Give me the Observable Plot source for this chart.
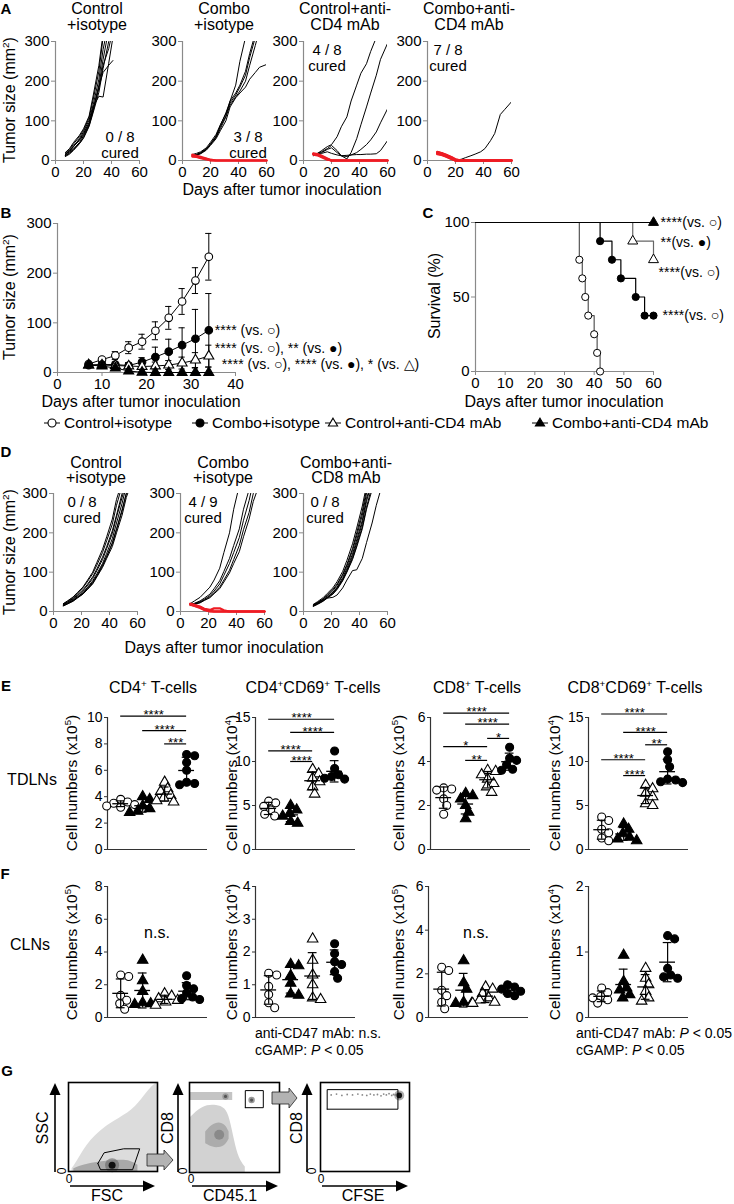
<!DOCTYPE html>
<html><head><meta charset="utf-8">
<script src="https://cdn.jsdelivr.net/npm/d3@7"></script>
<script src="https://cdn.jsdelivr.net/npm/@observablehq/plot@0.6"></script>
<style>
html,body{margin:0;padding:0;background:#fff;}
#fig{position:relative;width:734px;height:1204px;overflow:hidden;background:#fff;font-family:"Liberation Sans",Arial,Helvetica,sans-serif;color:#000;}
#fig .t{position:absolute;white-space:nowrap;font-size:16px;line-height:1;}
#fig .c{transform:translate(-50%,-50%);text-align:center;}
#fig .l{transform:translate(0,-50%);}
#fig .r{transform:translate(-50%,-50%) rotate(-90deg);}
#fig .b{font-weight:bold;}
#fig sup{font-size:0.62em;line-height:0;vertical-align:0.6em;}
#fig svg{overflow:visible;}
</style></head><body><div id="fig"></div>
<script>
// ================= DATA =================
// Panel A: individual tumor growth (mm^2), measurement days
const aDays = [7,10,13,17,20,24,27,31,34,38,41,45,48,52,55,60];
const a1Black = [
  [12,20,30,45,62,90,130,190,255,330],
  [15,22,35,55,72,102,142,205,280,350],
  [18,28,42,60,76,108,155,225,310],
  [10,16,26,42,56,86,122,172,232,300,340],
  [14,25,38,52,68,96,136,162,160,245,310],
  [20,30,46,63,80,112,165,240,320],
  [12,18,28,42,58,88,126,182,240,282,330],
  [16,24,36,50,65,92,132,186,222,240,252]
];
const a1Red = [];
const a2Black = [
  [12,14,18,28,42,62,88,120,150,190,250,310],
  [14,15,20,30,40,58,80,110,140,160,175,200,240,290,330],
  [15,18,22,32,46,66,90,118,145,165,185,215,260,310],
  [12,13,17,26,38,55,75,100,135,158,170,185,205,222,235,242],
  [13,15,19,28,42,60,85,112,150,170,190,225,270,320]
];
const a2Red = [
  [15,12,9,5,2,0,0,0,0,0,0,0,0,0,0,0],
  [12,10,7,4,1,0,0,0,0,0,0,0,0,0,0,0],
  [10,9,6,3,0,0,0,0,0,0,0,0,0,0,0,0]
];
const a3Black = [
  [15,18,25,35,40,60,85,110,150,190,220,244,275,310],
  [16,18,22,30,38,25,12,4,20,55,90,135,170,215,255,295],
  [14,16,20,28,32,20,12,10,14,20,28,40,52,72,95,130],
  [12,14,18,22,18,14,12,13,14,15,15,16,16,17,25,50]
];
const a3Red = [
  [18,16,12,5,0,0,0,0,0,0,0,0,0,0,0,0],
  [16,14,10,3,0,0,0,0,0,0,0,0,0,0,0,0],
  [15,13,8,2,0,0,0,0,0,0,0,0,0,0,0,0],
  [17,15,11,4,0,0,0,0,0,0,0,0,0,0,0,0]
];
const a4Black = [[18,16,12,6,1,3,7,12,16,22,30,50,68,116,128,148]];
const a4Red = [
  [20,18,14,8,2,0,0,0,0,0,0,0,0,0,0,0],
  [22,19,15,9,3,0,0,0,0,0,0,0,0,0,0,0],
  [18,16,12,6,0,0,0,0,0,0,0,0,0,0,0,0],
  [17,15,11,5,0,0,0,0,0,0,0,0,0,0,0,0],
  [19,17,13,7,1,0,0,0,0,0,0,0,0,0,0,0],
  [21,18,13,6,0,0,0,0,0,0,0,0,0,0,0,0],
  [16,14,10,4,0,0,0,0,0,0,0,0,0,0,0,0]
];
const aTitles = [["Control","+isotype"],["Combo","+isotype"],["Control+anti-","CD4 mAb"],["Combo+anti-","CD4 mAb"]];

// Panel B: mean tumor size ± SEM
const groupsB = ["Control+isotype","Combo+isotype","Control+anti-CD4 mAb","Combo+anti-CD4 mAb"];
const bDays = [7,10,13,16,19,22,25,28,31,34];
const bCtrlIso = [17,26,34,50,62,84,110,143,185,233];
const bCtrlIsoErr = [3,4,8,12,15,18,23,26,26,47];
const bComboIso = [15,16,16,14,21,31,42,55,68,85];
const bComboIsoErr = [3,4,5,6,9,20,25,35,59,74];
const bCtrlCD4 = [15,15,14,13,12,13,15,19,25,33];
const bCtrlCD4Err = [2,3,4,5,6,8,9,12,15,22];
const bComboCD4 = [15,13,9,3,0.5,0,0,0,0,0];
const bComboCD4Err = [2,2,3,2,1,0,0,0,0,0];
const bAnnot = [
  {key:"comboIso", text:"**** (vs. ○)"},
  {key:"ctrlCD4", text:"**** (vs. ○), ** (vs. ●)"},
  {key:"comboCD4", text:"**** (vs. ○), **** (vs. ●), * (vs. △)"}
];

// Panel C: survival (%)
const survCtrlIsoDays = [0,35,36,37,38,40,41,42];
const survCtrlIso = [100,75,62.5,50,37.5,25,12.5,0];
const survComboIsoDays = [0,42,46,49,54,57,60];
const survComboIso = [100,87.5,75,62.5,50,37.5,37.5];
const survCtrlCD4Days = [0,53,60];
const survCtrlCD4 = [100,87.5,75];
const survComboCD4Days = [0,60];
const survComboCD4 = [100,100];
const cAnnot = [
  {key:"comboCD4", text:"****(vs. ○)", line:0},
  {key:"comboCD4", text:"**(vs. ●)", line:1},
  {key:"ctrlCD4", text:"****(vs. ○)", line:0},
  {key:"comboIso", text:"****(vs. ○)", line:0}
];

// Panel D
const dDays = [7,10,14,17,21,24,28,31,35,38,42,45,49,52,56,60];
const d1Black = [
  [15,20,28,36,46,58,75,92,118,140,175,210,260,300],
  [18,24,33,42,55,68,88,108,138,165,205,245,300],
  [20,27,37,48,62,78,100,125,158,190,235,285,330],
  [16,21,29,37,48,60,78,96,122,148,185,225,275,320],
  [14,19,26,34,44,55,70,88,112,135,165,200,245,290,330],
  [17,23,31,40,52,65,84,104,132,160,198,240,290,330],
  [19,26,35,46,60,75,96,118,150,180,222,270,320],
  [15,20,27,35,45,56,72,90,115,140,172,208,255,300]
];
const d2Black = [
  [20,27,36,47,62,80,110,150,200,260,320],
  [18,21,27,34,44,58,78,102,135,168,210,260,310],
  [17,20,25,31,40,52,70,92,122,150,188,232,282,330],
  [16,19,23,29,37,48,62,80,105,132,168,208,252,300],
  [15,18,22,28,35,45,58,75,98,122,152,190,235,280,320]
];
const d2Red = [
  [18,15,10,5,1,0,0,0,0,0,0,0,0,0,0,0],
  [20,17,12,6,2,0,0,0,0,0,0,0,0,0,0,0],
  [17,14,9,4,0,0,0,0,0,0,0,0,0,0,0,0],
  [19,16,12,7,4,8,8,3,0,0,0,0,0,0,0,0]
];
const d3Black = [
  [15,20,28,36,48,60,82,105,140,175,225,280,330],
  [17,23,32,42,56,70,95,120,160,200,255,310],
  [14,19,27,35,46,58,80,102,135,168,215,265,320],
  [16,22,31,40,53,67,92,116,155,192,245,300],
  [18,25,35,46,60,76,102,130,172,212,268,320],
  [15,20,28,37,49,62,86,110,146,182,232,288,330],
  [13,18,26,34,44,56,78,100,132,164,210,260,310],
  [14,22,30,34,36,42,60,80,104,106,135,175,225,270,320]
];
const dTitles = [["Control","+isotype"],["Combo","+isotype"],["Combo+anti-","CD8 mAb"]];

// Panels E/F: cell numbers; groups ○ Control, ▲ anti-CD47 mAb, △ cGAMP, ● Combo
const eCD4 = [[3.8,3.6,3.5,3.4,3.3,3.2],[4.0,3.8,3.3,3.1,2.9,2.8],[5.1,4.6,4.4,4.1,3.9,3.7,3.6],[7.2,7.1,6.6,6.0,5.1,4.9,5.0]];
const eCD4CD69 = [[5.5,5.3,4.9,4.5,4.0,3.8],[5.0,4.5,4.1,3.8,3.2,3.0],[9.1,8.6,8.1,7.7,7.1,6.3],[11.2,9.2,8.5,8.3,8.1,8.0]];
const eCD8 = [[2.8,2.75,2.7,2.3,2.0,1.6],[2.55,2.45,2.3,2.0,1.7,1.4],[3.6,3.55,3.4,3.2,3.0,2.85,2.6],[4.65,4.15,4.05,3.85,3.65,3.6]];
const eCD8CD69 = [[3.7,3.3,2.3,1.9,1.3,1.0],[2.9,2.3,1.8,1.4,1.2,1.0],[7.3,6.9,6.4,6.0,5.2,5.0],[11.1,10.2,9.4,8.0,7.9,7.7,7.6]];
const fCD4 = [[2.6,2.5,1.35,1.05,0.85,0.5],[3.5,2.25,1.6,0.9,0.85,0.8],[1.45,1.3,1.15,1.05,0.95,0.75],[2.55,1.95,1.75,1.5,1.25,1.15,1.1]];
const fCD4CD69 = [[1.35,1.3,0.95,0.7,0.45,0.3],[1.62,1.58,1.28,1.05,0.72,0.68],[2.4,1.75,1.3,1.0,0.6,0.55],[2.25,1.95,1.7,1.62,1.4,1.2]];
const fCD8 = [[2.3,2.15,1.25,1.0,0.7,0.4],[2.6,1.6,1.3,0.7,0.65,0.65],[1.4,1.3,1.1,0.9,0.8,0.7,0.65],[1.5,1.4,1.3,1.2,1.1,1.0]];
const fCD8CD69 = [[0.45,0.38,0.32,0.27,0.22,0.3],[0.95,0.55,0.45,0.42,0.35,0.3],[0.75,0.6,0.5,0.4,0.3,0.25],[1.25,1.2,0.75,0.65,0.6,0.62]];
const eSig1 = [{a:1,b:4,y:10.1,t:"****"},{a:2,b:4,y:9.0,t:"****"},{a:3,b:4,y:8.0,t:"***"}];
const eSig2 = [{a:1,b:4,y:14.8,t:"****"},{a:2,b:4,y:13.3,t:"****"},{a:1,b:3,y:11.2,t:"****"},{a:2,b:3,y:10.0,t:"****"}];
const eSig3 = [{a:1,b:4,y:6.2,t:"****"},{a:2,b:4,y:5.7,t:"****"},{a:3,b:4,y:5.05,t:"*"},{a:1,b:3,y:4.68,t:"*"},{a:2,b:3,y:4.05,t:"**"}];
const eSig4 = [{a:1,b:4,y:15.4,t:"****"},{a:2,b:4,y:13.3,t:"****"},{a:3,b:4,y:11.9,t:"**"},{a:1,b:3,y:10.2,t:"****"},{a:2,b:3,y:8.4,t:"****"}];
const eTitles = ["CD4<sup>+</sup> T-cells","CD4<sup>+</sup>CD69<sup>+</sup> T-cells","CD8<sup>+</sup> T-cells","CD8<sup>+</sup>CD69<sup>+</sup> T-cells"];
const eExp = [5,4,5,4];

// Panel G: flow cytometry regions (normalized axes 0..1)
const g1LightX = [0.04,0.1,0.17,0.25,0.36,0.5,0.73,0.85,0.95,1];
const g1LightUp = [0.03,0.12,0.24,0.35,0.46,0.56,0.69,0.85,0.97,1];
const g1MedX = [0.06,0.15,0.3,0.45,0.6,0.7,0.78];
const g1MedUp = [0.03,0.07,0.1,0.12,0.13,0.12,0.07];
const g1Spot = [[0.49,0.07]];
const g1Gate = [[0.33,0.09],[0.40,0.21],[0.62,0.255],[0.80,0.255],[0.72,0.02],[0.36,0.02],[0.33,0.09]];
const g2BlobX = [0,0.1,0.2,0.3,0.4,0.45,0.5,0.55,0.62];
const g2BlobUp = [0.6,0.7,0.75,0.75,0.72,0.6,0.35,0.15,0.06];
const g2CoreX = [0.18,0.25,0.33,0.4,0.44];
const g2CoreLo = [0.32,0.28,0.27,0.3,0.37];
const g2CoreUp = [0.45,0.53,0.56,0.53,0.45];
const g2BandX = [0,0.48];
const g2BandLo = [0.8,0.8];
const g2BandUp = [0.89,0.89];
const g2Spots = [[0.4,0.845],[0.69,0.805]];
const g2Gate = [[0.62,0.72],[0.62,0.91],[0.82,0.91],[0.82,0.72],[0.62,0.72]];
const g3DotsX = [0.12,0.18,0.24,0.3,0.36,0.42,0.47,0.52,0.56,0.6,0.64,0.68,0.71,0.74,0.77,0.8,0.82,0.84,0.86];
const g3DotsY = [0.86,0.87,0.855,0.865,0.86,0.87,0.86,0.855,0.87,0.86,0.865,0.85,0.87,0.86,0.875,0.855,0.865,0.86,0.87];
const g3Spot = [[0.885,0.855]];
const g3Gate = [[0.075,0.70],[0.075,0.92],[0.87,0.92],[0.87,0.70],[0.075,0.70]];

// ================= DRAWING =================
const FONT = '"Liberation Sans", Arial, Helvetica, sans-serif';
const fig = document.getElementById("fig");
const AX = "#8a8a8a", AX2 = "#333";
const RED = "#ee1c24";
const fmt = d => String(d);
const style = (fs = 15) => ({fontFamily: FONT, fontSize: fs + "px", color: "#000", background: "transparent", overflow: "visible"});

function put(node, x, y) { node.style.position = "absolute"; node.style.left = x + "px"; node.style.top = y + "px"; fig.appendChild(node); return node; }
function txt(html, x, y, cls = "c", size = 16, extra = "") {
  const d = document.createElement("div");
  d.className = "t " + cls; d.innerHTML = html;
  d.style.left = x + "px"; d.style.top = y + "px"; d.style.fontSize = size + "px";
  if (extra) d.style.cssText += extra;
  fig.appendChild(d); return d;
}

function tumorChart(days, blacks, reds, ax, y300, y0) {
  const W = 84, H = y0 - y300, ml = 42, mr = 10, mt = 6, mb = 26;
  const toRows = (arr, k) => arr.flatMap((vals, i) => vals.map((v, j) => ({id: k + i, day: days[j], v})));
  const blk = toRows(blacks, "b"), red = toRows(reds, "r");
  const p = Plot.plot({
    width: ml + W + mr, height: mt + H + mb,
    marginLeft: ml, marginRight: mr, marginTop: mt, marginBottom: mb,
    style: style(15),
    x: {domain: [0, 60]}, y: {domain: [0, 300]},
    marks: [
      Plot.axisX({ticks: [0,20,40,60], tickFormat: fmt, tickSize: 4, tickPadding: 2, stroke: AX, fill: "#000", label: null}),
      Plot.axisY({ticks: [0,100,200,300], tickFormat: fmt, tickSize: 4, tickPadding: 2, stroke: AX, fill: "#000", label: null}),
      Plot.ruleX([0], {y1: 0, y2: 300, stroke: AX, strokeWidth: 1.2}),
      Plot.ruleY([0], {x1: 0, x2: 60, stroke: AX, strokeWidth: 1.2}),
      Plot.line(blk, {x: "day", y: "v", z: "id", stroke: "#000", strokeWidth: 1, clip: true}),
      Plot.line(red, {x: "day", y: "v", z: "id", stroke: RED, strokeWidth: 2.2})
    ]
  });
  put(p, ax - ml, y300 - mt);
  return {cured: reds.length, total: blacks.length + reds.length};
}

// ---- Panel A ----
txt("A", 6, 8, "c b", 15);
const aAx = [55, 182, 303, 427];
const aSets = [[a1Black, a1Red], [a2Black, a2Red], [a3Black, a3Red], [a4Black, a4Red]];
const aCuredPos = [[120, 136], [248, 136], [327, 49], [448, 49]];
aSets.forEach(([b, r], i) => {
  const res = tumorChart(aDays, b, r, aAx[i], 41, 160);
  const cx = aAx[i] + 42;
  txt(aTitles[i][0], cx, 9); txt(aTitles[i][1], cx, 25);
  txt(`${res.cured} / ${res.total}`, aCuredPos[i][0], aCuredPos[i][1], "c", 15);
  txt("cured", aCuredPos[i][0], aCuredPos[i][1] + 16, "c", 15);
});
txt("Tumor size (mm<sup>2</sup>)", 10, 100, "r");
txt("Days after tumor inoculation", 282, 190);

// ---- Panel B ----
txt("B", 6, 212, "c b", 15);
const bSeries = [
  {key: "ctrlIso", days: bDays, v: bCtrlIso, e: bCtrlIsoErr, symbol: "circle", fill: "#fff"},
  {key: "comboIso", days: bDays, v: bComboIso, e: bComboIsoErr, symbol: "circle", fill: "#000"},
  {key: "ctrlCD4", days: bDays, v: bCtrlCD4, e: bCtrlCD4Err, symbol: "triangle", fill: "#fff"},
  {key: "comboCD4", days: bDays, v: bComboCD4, e: bComboCD4Err, symbol: "triangle", fill: "#000"}
];
(function () {
  const ax = 57, y300 = 223, y0 = 372, W = 178, H = y0 - y300;
  const ml = 42, mr = 230, mt = 8, mb = 26;
  const marks = [
    Plot.axisX({ticks: [0,10,20,30,40], tickFormat: fmt, tickSize: 4, tickPadding: 2, stroke: AX, fill: "#000", label: null}),
    Plot.axisY({ticks: [0,100,200,300], tickFormat: fmt, tickSize: 4, tickPadding: 2, stroke: AX, fill: "#000", label: null}),
    Plot.ruleX([0], {y1: 0, y2: 300, stroke: AX, strokeWidth: 1.2}),
    Plot.ruleY([0], {x1: 0, x2: 40, stroke: AX, strokeWidth: 1.2})
  ];
  for (const s of bSeries) {
    const r = s.days.map((d, i) => ({day: d, v: s.v[i], e: s.e[i]}));
    const eb = r.filter(d => d.e > 0);
    marks.push(
      Plot.ruleX(eb, {x: "day", y1: d => d.v - d.e, y2: d => d.v + d.e, stroke: "#000"}),
      Plot.ruleY(eb, {x1: d => d.day - 0.7, x2: d => d.day + 0.7, y: d => d.v + d.e, stroke: "#000"}),
      Plot.ruleY(eb, {x1: d => d.day - 0.7, x2: d => d.day + 0.7, y: d => d.v - d.e, stroke: "#000"})
    );
  }
  for (const s of bSeries) {
    const r = s.days.map((d, i) => ({day: d, v: s.v[i]}));
    marks.push(
      Plot.line(r, {x: "day", y: "v", stroke: "#000", strokeWidth: 1}),
      Plot.dot(r, {x: "day", y: "v", symbol: s.symbol, r: s.symbol === "circle" ? 3.8 : 3.7, fill: s.fill, stroke: "#000", strokeWidth: 1.1})
    );
  }
  const dxMap = {comboIso: 6, ctrlCD4: 6, comboCD4: 13}, dyMap = {comboIso: 0, ctrlCD4: -8, comboCD4: -8};
  for (const a of bAnnot) {
    const s = bSeries.find(s => s.key === a.key), n = s.days.length - 1;
    marks.push(Plot.text([{x: s.days[n], y: s.v[n], t: a.text}], {x: "x", y: "y", text: "t", dx: dxMap[a.key], dy: dyMap[a.key], textAnchor: "start", fontSize: 14}));
  }
  const p = Plot.plot({width: ml + W + mr, height: mt + H + mb, marginLeft: ml, marginRight: mr, marginTop: mt, marginBottom: mb,
    style: style(15), x: {domain: [0, 40]}, y: {domain: [0, 300]}, marks});
  put(p, ax - ml, y300 - mt);
})();
txt("Tumor size (mm<sup>2</sup>)", 10, 297, "r");
txt("Days after tumor inoculation", 141, 402);

// ---- Panel C ----
txt("C", 428, 212, "c b", 15);
(function () {
  const ax = 475, y100 = 222, y0 = 371, W = 178, H = y0 - y100;
  const ml = 42, mr = 90, mt = 8, mb = 26;
  const series = [
    {key: "ctrlIso", days: survCtrlIsoDays, s: survCtrlIso, symbol: "circle", fill: "#fff", stroke: "#555"},
    {key: "ctrlCD4", days: survCtrlCD4Days, s: survCtrlCD4, symbol: "triangle", fill: "#fff", stroke: "#666"},
    {key: "comboIso", days: survComboIsoDays, s: survComboIso, symbol: "circle", fill: "#000", stroke: "#000"},
    {key: "comboCD4", days: survComboCD4Days, s: survComboCD4, symbol: "triangle", fill: "#000", stroke: "#000"}
  ];
  const marks = [
    Plot.axisX({ticks: [0,10,20,30,40,50,60], tickFormat: fmt, tickSize: 4, tickPadding: 2, stroke: AX, fill: "#000", label: null}),
    Plot.axisY({ticks: [0,50,100], tickFormat: fmt, tickSize: 4, tickPadding: 2, stroke: AX, fill: "#000", label: null}),
    Plot.ruleX([0], {y1: 0, y2: 100, stroke: AX, strokeWidth: 1.2}),
    Plot.ruleY([0], {x1: 0, x2: 60, stroke: AX, strokeWidth: 1.2})
  ];
  for (const s of series) {
    const r = s.days.map((d, i) => ({day: d, v: s.s[i]}));
    marks.push(Plot.line(r, {x: "day", y: "v", curve: "step-after", stroke: s.stroke, strokeWidth: 1.2}));
  }
  for (const s of series) {
    const r = s.days.map((d, i) => ({day: d, v: s.s[i]})).slice(1);
    marks.push(Plot.dot(r, {x: "day", y: "v", symbol: s.symbol, r: s.symbol === "circle" ? 3.6 : 3.7, fill: s.fill, stroke: "#000", strokeWidth: 1}));
  }
  const dxMap = {comboCD4: 7, ctrlCD4: 5, comboIso: 9}, dyMap = {comboCD4: 0, ctrlCD4: 13, comboIso: 0};
  for (const a of cAnnot) {
    const s = series.find(s => s.key === a.key), n = s.days.length - 1;
    marks.push(Plot.text([{x: s.days[n], y: s.s[n], t: a.text}], {x: "x", y: "y", text: "t", dx: dxMap[a.key], dy: dyMap[a.key] + a.line * 20, textAnchor: "start", fontSize: 14}));
  }
  const p = Plot.plot({width: ml + W + mr, height: mt + H + mb, marginLeft: ml, marginRight: mr, marginTop: mt, marginBottom: mb,
    style: style(15), x: {domain: [0, 60]}, y: {domain: [0, 100]}, marks});
  put(p, ax - ml, y100 - mt);
})();
txt("Survival (%)", 435, 296, "r");
txt("Days after tumor inoculation", 564, 402);

// ---- Legend ----
(function () {
  const syms = [["circle", "#fff"], ["circle", "#000"], ["triangle", "#fff"], ["triangle", "#000"]];
  const mx = [52, 200, 333, 540];
  groupsB.forEach((name, i) => {
    const [sym, fill] = syms[i];
    const shape = sym === "circle"
      ? `<circle cx="9" cy="7" r="4" fill="${fill}" stroke="#000" stroke-width="1.1"/>`
      : `<path d="M9,2.2 L13.6,10 L4.4,10 Z" fill="${fill}" stroke="#000" stroke-width="1.1"/>`;
    const d = document.createElement("div");
    d.innerHTML = `<svg width="18" height="14"><line x1="1" x2="17" y1="7" y2="7" stroke="#000"/>${shape}</svg>`;
    put(d, mx[i] - 9, 416);
    txt(name, mx[i] + 12, 423, "l", 15.5);
  });
})();

// ---- Panel D ----
txt("D", 6, 451, "c b", 15);
const dAx = [53, 180, 303];
const dSets = [[d1Black, []], [d2Black, d2Red], [d3Black, []]];
const dCuredX = [82, 203, 325];
dSets.forEach(([b, r], i) => {
  const res = tumorChart(dDays, b, r, dAx[i], 493, 611);
  const cx = dAx[i] + 43;
  txt(dTitles[i][0], cx, 463); txt(dTitles[i][1], cx, 478);
  txt(`${res.cured} / ${res.total}`, dCuredX[i], 501, "c", 15);
  txt("cured", dCuredX[i], 517, "c", 15);
});
txt("Tumor size (mm<sup>2</sup>)", 10, 552, "r");
txt("Days after tumor inoculation", 224, 648);

// ---- Dot charts (E, F) ----
function swarmOffsets(vals, pxPerY, minDist) {
  const order = vals.map((v, i) => i).sort((a, b) => vals[b] - vals[a]);
  const placed = [], offs = new Array(vals.length).fill(0);
  for (const i of order) {
    const y = vals[i] * pxPerY;
    for (let k = 0; k < 80; k++) {
      const o = (k % 2 ? 1 : -1) * Math.ceil(k / 2);
      if (placed.every(p => (p.x - o) ** 2 + (p.y - y) ** 2 >= minDist * minDist)) { offs[i] = o; placed.push({x: o, y}); break; }
    }
  }
  return offs;
}
function dotChart(vals, max, ticks, ax, yTop, y0, sig) {
  const W = 100, H = y0 - yTop, ml = 36, mr = 10, mt = 34, mb = 6;
  const xd = [0.4, 4.95], pxX = W / (xd[1] - xd[0]), pxY = H / max;
  const pts = [];
  vals.forEach((vs, gi) => { const o = swarmOffsets(vs, pxY, 7.2); vs.forEach((v, i) => pts.push({g: gi, x: gi + 1 + o[i] / pxX, v})); });
  const stats = vals.map((vs, gi) => ({x: gi + 1, m: d3.mean(vs), s: d3.deviation(vs)}));
  const sym = [["circle", "#fff"], ["triangle", "#000"], ["triangle", "#fff"], ["circle", "#000"]];
  const marks = [
    Plot.axisY({ticks, tickFormat: fmt, tickSize: 3, tickPadding: 2, stroke: AX2, fill: "#000", label: null}),
    Plot.ruleX([xd[0]], {y1: 0, y2: max, stroke: AX2, strokeWidth: 1.2}),
    Plot.ruleY([0], {x1: xd[0], x2: xd[1], stroke: AX2, strokeWidth: 1.2})
  ];
  sym.forEach(([s, f], gi) => marks.push(Plot.dot(pts.filter(p => p.g === gi), {x: "x", y: "v", symbol: s, r: s === "circle" ? 4 : 3.9, fill: f, stroke: "#000", strokeWidth: 1.1})));
  marks.push(
    Plot.ruleX(stats, {x: "x", y1: d => d.m - d.s, y2: d => d.m + d.s, stroke: "#000", strokeWidth: 1.2}),
    Plot.ruleY(stats, {x1: d => d.x - 0.36, x2: d => d.x + 0.36, y: "m", stroke: "#000", strokeWidth: 1.3}),
    Plot.ruleY(stats, {x1: d => d.x - 0.2, x2: d => d.x + 0.2, y: d => d.m + d.s, stroke: "#000", strokeWidth: 1.2}),
    Plot.ruleY(stats, {x1: d => d.x - 0.2, x2: d => d.x + 0.2, y: d => d.m - d.s, stroke: "#000", strokeWidth: 1.2})
  );
  if (sig) marks.push(
    Plot.ruleY(sig, {x1: "a", x2: "b", y: "y", stroke: "#000", strokeWidth: 1.2}),
    Plot.text(sig, {x: d => (d.a + d.b) / 2, y: "y", text: "t", lineAnchor: "middle", dy: -1, fontSize: 13})
  );
  const p = Plot.plot({width: ml + W + mr, height: mt + H + mb, marginLeft: ml, marginRight: mr, marginTop: mt, marginBottom: mb,
    style: style(14), x: {domain: xd, axis: null}, y: {domain: [0, max]}, marks});
  put(p, ax - ml, yTop - mt);
}

// ---- Panel E ----
txt("E", 6, 685, "c b", 15);
const eAx = [107, 255, 430, 588];
const eTitleX = [153, 313, 477, 635];
eTitles.forEach((t, i) => txt(t, eTitleX[i], 688));
txt("TDLNs", 32, 780);
dotChart(eCD4, 10, [0,2,4,6,8,10], eAx[0], 717, 849, eSig1);
dotChart(eCD4CD69, 15, [0,5,10,15], eAx[1], 717, 849, eSig2);
dotChart(eCD8, 6, [0,2,4,6], eAx[2], 717, 849, eSig3);
dotChart(eCD8CD69, 15, [0,5,10,15], eAx[3], 717, 849, eSig4);
const yLabX = [72, 232, 399, 555];
eExp.forEach((e, i) => txt(`Cell numbers (x10<sup>${e}</sup>)`, yLabX[i], 783, "r", 15.5));

// ---- Panel F ----
txt("F", 5, 873, "c b", 15);
const fAx = [107, 255, 428, 588];
txt("CLNs", 30, 945);
dotChart(fCD4, 8, [0,2,4,6,8], fAx[0], 886, 1017);
dotChart(fCD4CD69, 4, [0,1,2,3,4], fAx[1], 886, 1017);
dotChart(fCD8, 6, [0,2,4,6], fAx[2], 886, 1017);
dotChart(fCD8CD69, 2, [0,1,2], fAx[3], 886, 1017);
eExp.forEach((e, i) => txt(`Cell numbers (x10<sup>${e}</sup>)`, yLabX[i], 952, "r", 15.5));
txt("n.s.", 157, 933);
txt("n.s.", 476, 933);
txt("anti-CD47 mAb: n.s.", 255, 1033, "l", 14);
txt("cGAMP: <i>P</i> &lt; 0.05", 255, 1050, "l", 14);
txt("anti-CD47 mAb: <i>P</i> &lt; 0.05", 576, 1033, "l", 14);
txt("cGAMP: <i>P</i> &lt; 0.05", 576, 1050, "l", 14);

// ---- Panel G ----
txt("G", 7, 1070, "c b", 15);
function flowPlot(x0, y0, size, marks) {
  const p = Plot.plot({width: size, height: size, margin: 0, style: style(12),
    x: {domain: [0, 1], axis: null}, y: {domain: [0, 1], axis: null},
    marks: [...marks, Plot.frame({stroke: "#000", strokeWidth: 1.6})]});
  put(p, x0, y0);
}
const rowsOf = (xs, lo, hi) => xs.map((x, i) => ({x, lo: Array.isArray(lo) ? lo[i] : lo, hi: hi[i]}));
flowPlot(68, 1082, 89, [
  Plot.areaY(rowsOf(g1LightX, 0, g1LightUp), {x: "x", y1: "lo", y2: "hi", fill: "#dcdcdc", curve: "basis"}),
  Plot.areaY(rowsOf(g1MedX, 0, g1MedUp), {x: "x", y1: "lo", y2: "hi", fill: "#a9a9a9", curve: "basis"}),
  Plot.dot(g1Spot, {x: d => d[0], y: d => d[1], r: 7, fill: "#666", fillOpacity: 0.6}),
  Plot.dot(g1Spot, {x: d => d[0], y: d => d[1], r: 3.5, fill: "#111"}),
  Plot.line(g1Gate, {x: d => d[0], y: d => d[1], stroke: "#000", strokeWidth: 1})
]);
flowPlot(189, 1082, 90, [
  Plot.areaY(rowsOf(g2BlobX, 0, g2BlobUp), {x: "x", y1: "lo", y2: "hi", fill: "#d2d2d2", curve: "basis"}),
  Plot.areaY(rowsOf(g2CoreX, g2CoreLo, g2CoreUp), {x: "x", y1: "lo", y2: "hi", fill: "#acacac", curve: "basis"}),
  Plot.areaY(rowsOf(g2BandX, g2BandLo, g2BandUp), {x: "x", y1: "lo", y2: "hi", fill: "#c4c4c4"}),
  Plot.dot([[0.33, 0.42]], {x: d => d[0], y: d => d[1], r: 5, fill: "#8a8a8a"}),
  Plot.dot(g2Spots, {x: d => d[0], y: d => d[1], r: 3.2, fill: "#9a9a9a"}),
  Plot.dot(g2Spots, {x: d => d[0], y: d => d[1], r: 1.6, fill: "#555"}),
  Plot.line(g2Gate, {x: d => d[0], y: d => d[1], stroke: "#000", strokeWidth: 1})
]);
flowPlot(320, 1082, 89, [
  Plot.dot(g3DotsX.map((x, i) => [x, g3DotsY[i]]), {x: d => d[0], y: d => d[1], r: 0.9, fill: "#888"}),
  Plot.dot(g3Spot, {x: d => d[0], y: d => d[1], r: 5, fill: "#777", fillOpacity: 0.6}),
  Plot.dot(g3Spot, {x: d => d[0], y: d => d[1], r: 2.8, fill: "#111"}),
  Plot.line(g3Gate, {x: d => d[0], y: d => d[1], stroke: "#000", strokeWidth: 1})
]);
// axis arrows and block arrows (decoration)
(function () {
  let s = `<svg width="734" height="1204" style="position:absolute;left:0;top:0;pointer-events:none">`;
  const arrows = [[55, 70, 155], [178, 192, 278], [307, 322, 408]];
  for (const [vx, hx0, hx1] of arrows) {
    s += `<line x1="${vx}" y1="1172" x2="${vx}" y2="1092" stroke="#000" stroke-width="1.6"/>`;
    s += `<path d="M${vx},1083 L${vx - 5.5},1095 L${vx + 5.5},1095 Z" fill="#000"/>`;
    s += `<line x1="${hx0}" y1="1186" x2="${hx1 - 9}" y2="1186" stroke="#000" stroke-width="1.6"/>`;
    s += `<path d="M${hx1},1186 L${hx1 - 12},1180.5 L${hx1 - 12},1191.5 Z" fill="#000"/>`;
  }
  s += `<path d="M147,1154 L164,1154 L164,1150 L173,1160 L164,1170 L164,1166 L147,1166 Z" fill="#b3b3b3" stroke="#222" stroke-width="0.8"/>`;
  s += `<path d="M272,1092 L289,1092 L289,1088 L297,1098 L289,1108 L289,1104 L272,1104 Z" fill="#b3b3b3" stroke="#222" stroke-width="0.8"/>`;
  s += `</svg>`;
  const d = document.createElement("div");
  d.innerHTML = s;
  put(d, 0, 0);
})();
txt("SSC", 43, 1128, "r");
txt("FSC", 107, 1196);
txt("CD8", 168, 1128, "r");
txt("CD45.1", 230, 1196);
txt("CD8", 297, 1128, "r");
txt("CFSE", 363, 1196);
[62, 183, 312].forEach(x => txt("0", x, 1171, "r", 12));
[69, 191, 321].forEach(x => txt("0", x, 1179, "c", 12));
</script></body></html>
